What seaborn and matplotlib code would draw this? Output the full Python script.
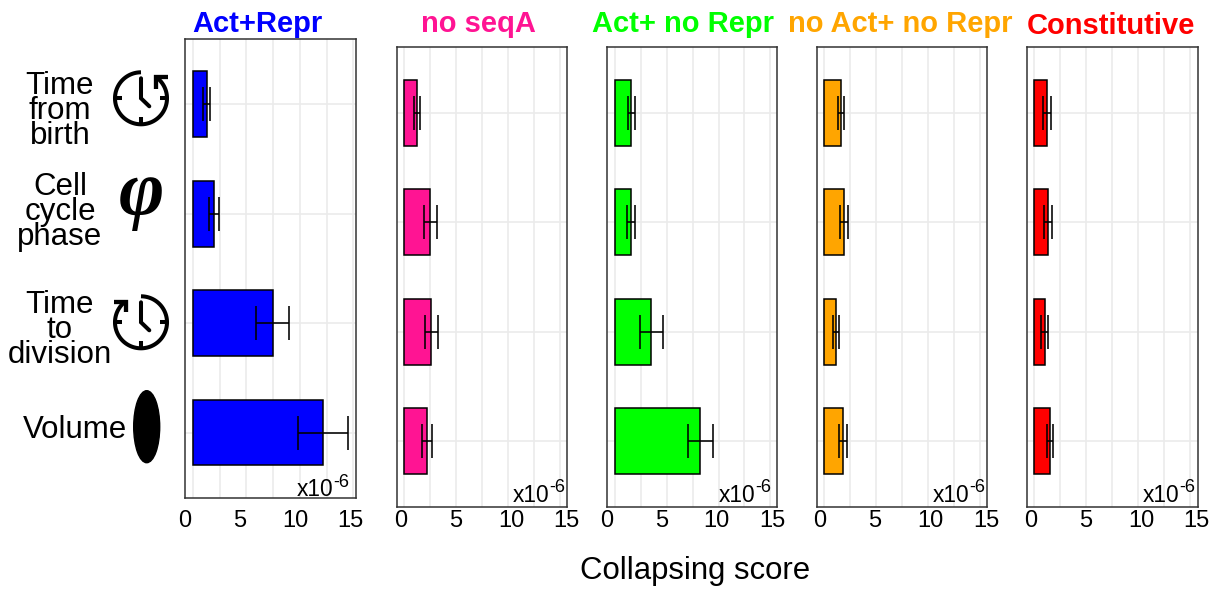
import matplotlib
matplotlib.use('Agg')
import matplotlib.pyplot as plt
from matplotlib.patches import Ellipse
import numpy as np
import pandas as pd
import seaborn as sns

sns.set_style('white')
plt.rcParams['font.family'] = ['Liberation Sans', 'DejaVu Sans']
plt.rcParams['text.color'] = 'black'

# Collapsing score, x10^-6
features = ['Time\nfrom\nbirth', 'Cell\ncycle\nphase', 'Time\nto\ndivision', 'Volume']
grid_ticks = [0, 2.5, 5, 7.5, 10, 12.5, 15]
tick_labels = ['0', '5', '10', '15']

names = ['Act+Repr', 'no seqA', 'Act+ no Repr', 'no Act+ no Repr', 'Constitutive']
colors = ['#0000FF', '#FF1493', '#00FF00', '#FFA500', '#FF0000']

act_repr = [1.30, 2.02, 7.49, 12.14]
act_repr_err = [0.34, 0.47, 1.54, 2.33]
no_seqa = [1.25, 2.53, 2.63, 2.18]
no_seqa_err = [0.32, 0.60, 0.62, 0.48]
act_no_repr = [1.57, 1.51, 3.50, 8.24]
act_no_repr_err = [0.33, 0.36, 1.11, 1.25]
no_act_no_repr = [1.60, 1.89, 1.15, 1.80]
no_act_no_repr_err = [0.32, 0.36, 0.29, 0.36]
constitutive = [1.22, 1.32, 1.00, 1.51]
constitutive_err = [0.34, 0.34, 0.36, 0.31]

scores = [act_repr, no_seqa, act_no_repr, no_act_no_repr, constitutive]
errors = [act_repr_err, no_seqa_err, act_no_repr_err, no_act_no_repr_err, constitutive_err]

W, H = 1220, 590
fig = plt.figure(figsize=(W / 100, H / 100), dpi=100)

# left, right, top, bottom, x=0 pixel, pixels per unit, label shift, title centre, title baseline
layout = [
    (184.5, 355.5, 38.5, 498.3, 192.3, 10.74, -0.5, 257.5, 32),
    (396.7, 567.3, 47, 507, 404, 10.4, 3.5, 478, 32),
    (606.7, 777.3, 47, 507, 614.3, 10.4, -1, 683, 32),
    (816.7, 987.3, 47, 507, 824.3, 10.4, 3, 900, 32),
    (1027, 1197.7, 47, 507, 1034.3, 10.4, 3.5, 1110.5, 34.5),
]

for i, (left, right, top, bottom, x0, ppu, shift, tx, ty) in enumerate(layout):
    ax = fig.add_axes([left / W, 1 - bottom / H, (right - left) / W, (bottom - top) / H])
    df = pd.DataFrame({'feature': features, 'score': scores[i], 'err': errors[i]})
    sns.barplot(data=df, x='score', y='feature', color=colors[i], saturation=1,
                edgecolor='black', linewidth=1.1, width=0.6, orient='h', ax=ax, zorder=2)
    ax.errorbar(df['score'], range(len(df)), xerr=df['err'], fmt='none', ecolor='black',
                elinewidth=1.15, capsize=11.9, capthick=1.15, zorder=3)

    ax.set_xlim((left - x0) / ppu, (right - x0) / ppu)
    ax.set_ylim(3.6, -0.6)
    ax.set_xlabel('')
    ax.set_ylabel('')
    ax.set_yticks(range(len(features)))
    ax.set_yticklabels([''] * len(features))
    ax.set_xticks(grid_ticks)
    ax.set_xticklabels([''] * len(grid_ticks))
    ax.grid(True, which='major', color='#EBEBEB', linewidth=1.2)
    ax.set_axisbelow(True)

    # tick labels sit a bit off the grid lines in the original
    label_pos = [(left + shift + k * 55.4 - x0) / ppu for k in range(len(tick_labels))]
    ax.set_xticks(label_pos, tick_labels, minor=True)
    pad = 8.6 if i == 0 else 2.4
    ax.tick_params(axis='x', which='both', length=0)
    ax.tick_params(axis='x', which='minor', labelsize=17, pad=pad, labelcolor='black')
    ax.tick_params(axis='y', length=3, width=1, color='#333333')
    for spine in ax.spines.values():
        spine.set_visible(True)
        spine.set_color('#333333')
        spine.set_linewidth(1.1)

    ax.set_title(names[i], color=colors[i], fontsize=21, fontweight='bold',
                 x=(tx - left) / (right - left), y=(bottom - ty) / (bottom - top), pad=0)

    up = 2 if i == 0 else 5.3
    back = 58.8 if i in (0, 2) else 54.8
    ax.annotate('x10', xy=(1, 0), xycoords='axes fraction', xytext=(-back, up),
                textcoords='offset pixels', fontsize=16.4, va='baseline', ha='left')
    ax.annotate('-6', xy=(1, 0), xycoords='axes fraction', xytext=(-back + 36.7, up + 9.5),
                textcoords='offset pixels', fontsize=13, va='baseline', ha='left')

# overlay in pixel coordinates for the row labels and the icons
over = fig.add_axes([0, 0, 1, 1], zorder=5)
over.set_xlim(0, W)
over.set_ylim(H, 0)
over.axis('off')

label_spots = [(60, 111), (60, 212), (60, 330), (75, 430)]
for text, (lx, ly) in zip(features, label_spots):
    over.text(lx, ly, text, fontsize=22.5, ha='center', va='center', ma='center',
              linespacing=0.8, color='black')


def clock(cx, cy, start, end, chevron):
    t = np.radians(np.linspace(start, end, 120))
    over.plot(cx + 26 * np.cos(t), cy - 26 * np.sin(t), color='black', lw=2.9, solid_capstyle='butt')
    for dx, dy in [(1, 0), (0, 1), (-1, 0)]:
        over.plot([cx + 19 * dx, cx + 27 * dx], [cy + 19 * dy, cy + 27 * dy], color='black', lw=2.9,
                  solid_capstyle='butt')
    over.plot([cx, cx, cx + 8.3], [cy - 20, cy, cy + 8], color='black', lw=2.9, solid_joinstyle='miter')
    over.plot(*zip(*chevron), color='black', lw=3.1, solid_joinstyle='miter', solid_capstyle='butt')


clock(141, 98.3, 90, 415, [(167.7, 77.3), (155.7, 77.3), (155.7, 89.3)])
clock(141, 322.3, 90, -233, [(114.3, 301.5), (125.7, 301.5), (125.7, 312.3)])
over.text(141.5, 214, '\u03c6', fontsize=56, family='Liberation Serif', fontweight='bold',
          fontstyle='italic', ha='center', va='baseline', color='black')
over.add_patch(Ellipse((146.7, 426.7), 26, 72, color='black'))

over.text(695, 579, 'Collapsing score', fontsize=22.4, ha='center', va='baseline', color='black')

plt.savefig('out.png', dpi=100)
plt.close()
